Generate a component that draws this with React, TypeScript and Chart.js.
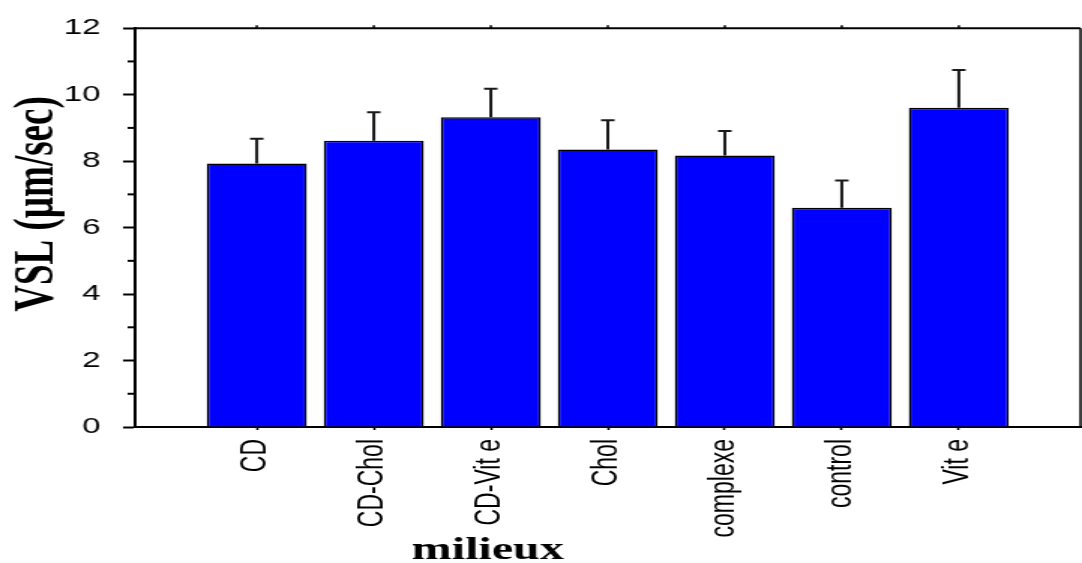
import React, { useEffect, useRef } from 'react';
import { Chart, registerables } from 'chart.js';

Chart.register(...registerables);

// ---- data ----
const CATEGORIES = ['CD', 'CD-Chol', 'CD-Vit e', 'Chol', 'complexe', 'control', 'Vit e'];
const VSL_MEANS = [7.93, 8.61, 9.32, 8.35, 8.17, 6.6, 9.61];
const VSL_ERRORS = [0.74, 0.86, 0.86, 0.88, 0.74, 0.82, 1.13];
const Y_TICKS = [0, 2, 4, 6, 8, 10, 12];
const Y_MINOR_TICKS = [1, 3, 5, 7, 9, 11];
const X_TITLE = 'milieux';
const Y_TITLE = 'VSL (µm/sec)';

// ---- layout (canvas is drawn narrow and shown stretched, like the reference) ----
const CANVAS_W = 721;
const CANVAS_H = 563;
const DISPLAY_W = 1082;

const decorPlugin = {
  id: 'decor',
  afterDatasetsDraw(chart: any) {
    const ctx = chart.ctx;
    const meta = chart.getDatasetMeta(0);
    const yScale = chart.scales.y;
    ctx.save();
    ctx.strokeStyle = '#1a1a1a';
    ctx.lineWidth = 2;
    meta.data.forEach((bar: any, i: number) => {
      const top = yScale.getPixelForValue(VSL_MEANS[i] + VSL_ERRORS[i]);
      ctx.beginPath();
      ctx.moveTo(bar.x, bar.y);
      ctx.lineTo(bar.x, top);
      ctx.moveTo(bar.x - 4.5, top);
      ctx.lineTo(bar.x + 4.5, top);
      ctx.stroke();
    });
    ctx.restore();
  },
  afterDraw(chart: any) {
    const ctx = chart.ctx;
    const area = chart.chartArea;
    const xScale = chart.scales.x;
    const yScale = chart.scales.y;
    ctx.save();
    ctx.strokeStyle = '#000';
    // top frame line
    ctx.lineWidth = 2;
    ctx.beginPath();
    ctx.moveTo(area.left, area.top);
    ctx.lineTo(area.right, area.top);
    ctx.stroke();
    // right frame line
    ctx.lineWidth = 1.5;
    ctx.beginPath();
    ctx.moveTo(area.right, area.top);
    ctx.lineTo(area.right, area.bottom);
    ctx.stroke();
    // small ticks on top frame at category positions
    CATEGORIES.forEach((_, i) => {
      const px = xScale.getPixelForValue(i);
      ctx.beginPath();
      ctx.moveTo(px, area.top);
      ctx.lineTo(px, area.top - 3);
      ctx.stroke();
    });
    // minor y ticks
    ctx.lineWidth = 2;
    Y_MINOR_TICKS.forEach((v) => {
      const py = yScale.getPixelForValue(v);
      ctx.beginPath();
      ctx.moveTo(area.left - 5, py);
      ctx.lineTo(area.left, py);
      ctx.stroke();
    });
    // axis titles
    ctx.fillStyle = '#000';
    ctx.font = 'bold 32px "Liberation Serif", serif';
    ctx.textAlign = 'center';
    ctx.textBaseline = 'alphabetic';
    ctx.fillText(X_TITLE, 325, 559);
    ctx.save();
    ctx.translate(35, 204);
    ctx.rotate(-Math.PI / 2);
    ctx.font = 'bold 37px "Liberation Serif", serif';
    ctx.fillText(Y_TITLE, 0, 0);
    ctx.restore();
    ctx.restore();
  },
};

export default function App() {
  const canvasRef = useRef<HTMLCanvasElement | null>(null);

  useEffect(() => {
    if (!canvasRef.current) return;
    const chart = new Chart(canvasRef.current, {
      type: 'bar',
      data: {
        datasets: [
          {
            label: 'VSL',
            data: VSL_MEANS.map((v, i) => ({ x: i, y: v })),
            backgroundColor: '#0000ff',
            borderColor: '#000',
            borderWidth: 1.5,
            categoryPercentage: 1,
            barPercentage: 0.855,
          },
        ],
      },
      options: {
        responsive: false,
        devicePixelRatio: 1,
        animation: false,
        layout: { padding: { left: 0, top: 23, right: 1, bottom: 0 } },
        plugins: {
          legend: { display: false },
          tooltip: { enabled: false },
          title: { display: false },
        },
        scales: {
          x: {
            type: 'linear',
            offset: false,
            bounds: 'data',
            min: -1.04,
            max: 7.04,
            afterBuildTicks: (scale: any) => {
              scale.ticks = CATEGORIES.map((_, i) => ({ value: i }));
            },
            afterFit: (scale: any) => {
              scale.height = CANVAS_H - 427;
            },
            grid: {
              display: true,
              offset: false,
              drawOnChartArea: false,
              drawTicks: true,
              tickLength: 3,
              tickWidth: 1.5,
              tickColor: '#000',
            },
            border: { display: true, color: '#000', width: 2 },
            ticks: {
              autoSkip: false,
              minRotation: 90,
              maxRotation: 90,
              padding: 9,
              color: '#000',
              font: { family: '"Liberation Sans", Arial, sans-serif', size: 23 },
              callback: (value: any) => {
                const i = Number(value);
                return Number.isInteger(i) && i >= 0 && i < CATEGORIES.length ? CATEGORIES[i] : '';
              },
            },
          },
          y: {
            type: 'linear',
            min: 0,
            max: 12,
            afterBuildTicks: (scale: any) => {
              scale.ticks = Y_TICKS.map((v) => ({ value: v }));
            },
            afterFit: (scale: any) => {
              scale.width = 90;
            },
            grid: {
              display: true,
              drawOnChartArea: false,
              drawTicks: true,
              tickLength: 8,
              tickWidth: 2,
              tickColor: '#000',
            },
            border: { display: true, color: '#000', width: 2 },
            ticks: {
              padding: 15,
              color: '#000',
              font: { family: '"Liberation Sans", Arial, sans-serif', size: 22 },
              callback: (value: any) => String(value),
            },
          },
        },
      },
      plugins: [decorPlugin],
    } as any);
    return () => chart.destroy();
  }, []);

  return (
    <div style={{ position: 'absolute', left: 0, top: 0, width: DISPLAY_W, height: CANVAS_H }}>
      <canvas
        ref={canvasRef}
        width={CANVAS_W}
        height={CANVAS_H}
        style={{ width: `${DISPLAY_W}px`, height: `${CANVAS_H}px`, display: 'block' }}
      />
    </div>
  );
}
